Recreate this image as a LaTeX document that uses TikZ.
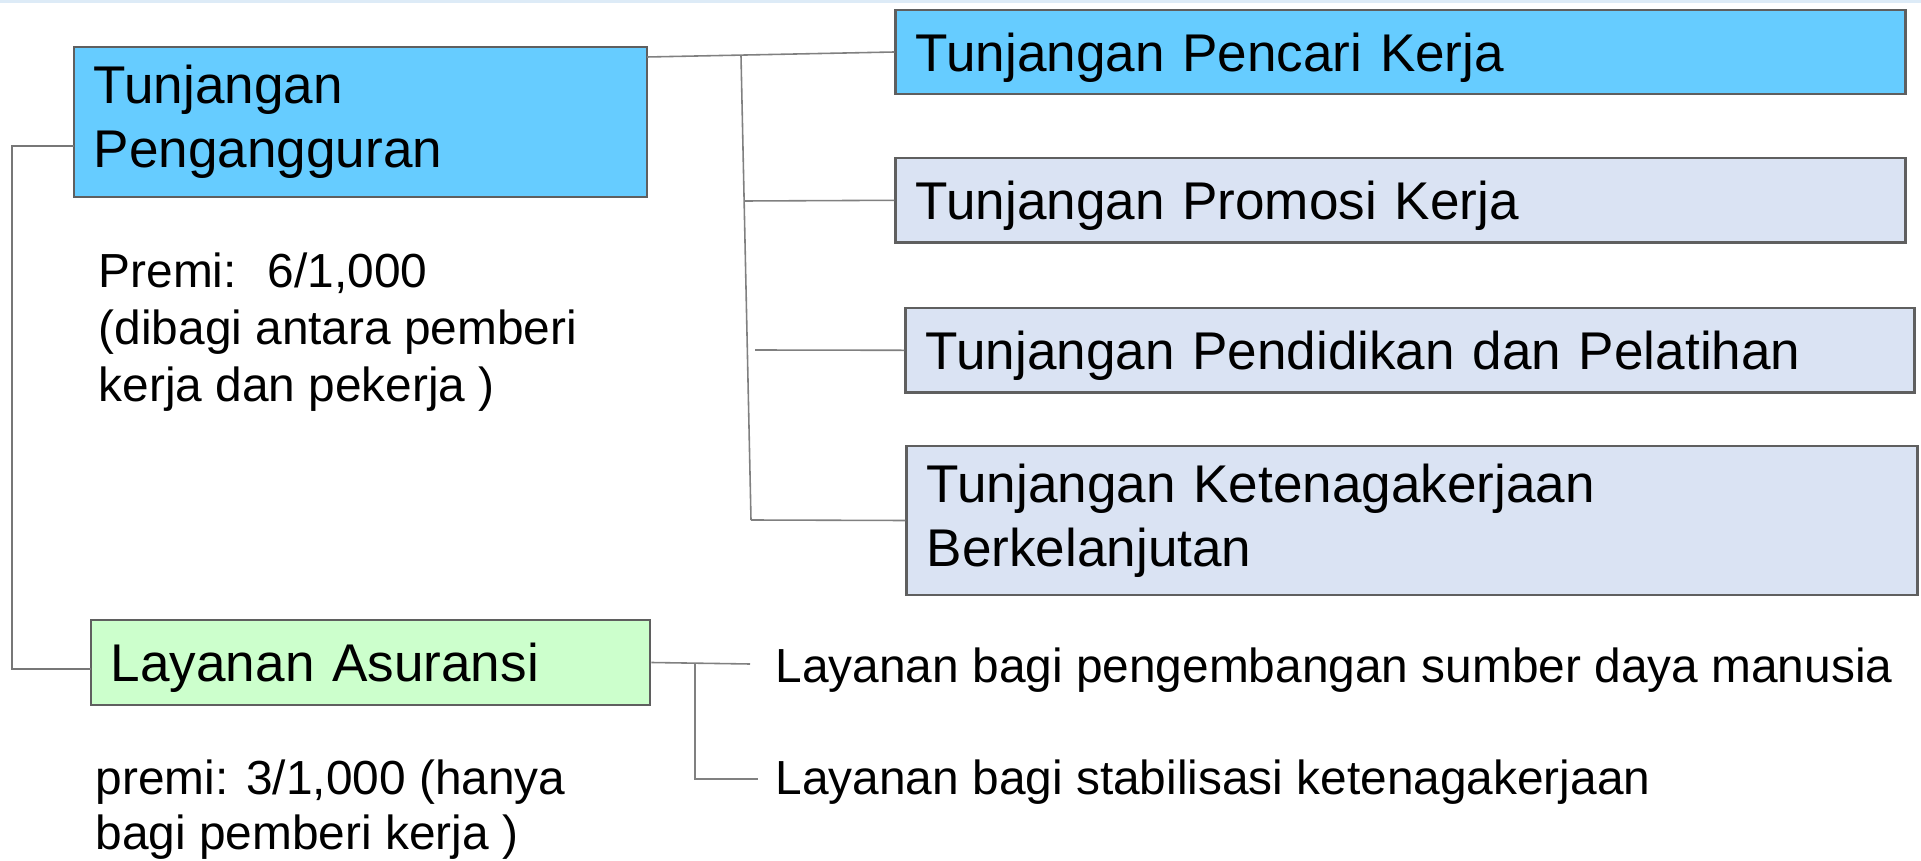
\documentclass[tikz,border=0pt]{standalone}
\usepackage{fontspec}
\setmainfont{Liberation Sans}
\definecolor{cyanfill}{HTML}{66CCFF}
\definecolor{lavfill}{HTML}{DAE3F3}
\definecolor{greenfill}{HTML}{CCFFCC}
\definecolor{boxline}{HTML}{5F5F5F}
\definecolor{linkgray}{HTML}{808080}
\definecolor{stripblue}{HTML}{DDEBF7}
\newcommand{\bigfont}{\fontsize{15.1}{18.2}\selectfont}
\newcommand{\notefont}{\fontsize{13.6}{16.2}\selectfont}
\begin{document}
\begin{tikzpicture}[x=0.01cm, y=-0.01cm,
    box/.style={draw=boxline, line width=0.7pt, inner xsep=0.2cm, inner ysep=0pt,
                align=left, font=\bigfont},
    onebox/.style={box, text depth=0pt},
    link/.style={draw=linkgray, line width=0.45pt},
    note/.style={inner sep=0pt, align=left, font=\notefont}]
    \useasboundingbox (0,0) rectangle (1921,861);

    % Bande du haut
    \fill[stripblue] (0,0) rectangle (1921,3);

    % Boîtes de gauche
    \node[box, fill=cyanfill, text width=5.33cm, minimum height=1.495cm] (tp) at (360.5,122)
        {Tunjangan\\Pengangguran};
    \node[onebox, fill=greenfill, text width=5.19cm, minimum height=0.85cm] (la) at (370.5,662.5)
        {Layanan Asuransi};

    % Boîtes de droite
    \node[onebox, fill=cyanfill, text width=9.69cm, minimum height=0.84cm] (tpk) at (1400.5,52)
        {Tunjangan Pencari Kerja};
    \node[onebox, fill=lavfill, text width=9.69cm, minimum height=0.847cm] (tpr) at (1400.5,200.3)
        {Tunjangan Promosi Kerja};
    \node[onebox, fill=lavfill, text width=9.68cm, minimum height=0.847cm] (tpd) at (1410,350.3)
        {Tunjangan Pendidikan dan Pelatihan};
    \node[box, fill=lavfill, text width=9.70cm, minimum height=1.49cm] (tkb) at (1412,520.5)
        {Tunjangan Ketenagakerjaan\\Berkelanjutan};

    % Premi
    \node[note, anchor=north west] (premi1) at (98,252)
        {Premi:~ 6/1,000\\(dibagi antara pemberi\\kerja dan pekerja )};
    \node[note, anchor=north west, font=\fontsize{13.6}{15.6}\selectfont] (premi2) at (95,759)
        {premi: 3/1,000 (hanya\\bagi pemberi kerja )};

    % Layanan
    \node[note, anchor=base west] (svc1) at (775,682) {Layanan bagi pengembangan sumber daya manusia};
    \node[note, anchor=base west] (svc2) at (775,794) {Layanan bagi stabilisasi ketenagakerjaan};

    % Garis ke kanan
    \coordinate (tpout) at (647,57);
    \coordinate (spinetop) at (741,56);
    \coordinate (spinebot) at (751,520);
    \coordinate (br2) at (745,201);
    \coordinate (br3) at (755,350);
    \draw[link] (tpout) -- (tpk.west);
    \draw[link] (spinetop) -- (spinebot);
    \draw[link] (br2) -- (tpr.west);
    \draw[link] (br3) -- (tpd.west);
    \draw[link] (spinebot) -- (tkb.west);

    % Garis kiri
    \coordinate (tpin) at (74,146);
    \coordinate (rail) at (12,400);
    \coordinate (lain) at (91,669);
    \draw[link, draw=boxline!85, line width=0.6pt] (tpin) -| (rail) |- (lain);

    % Garis layanan
    \coordinate (svcend1) at (750,664);
    \coordinate (svcjoin) at (695,663.5);
    \coordinate (svcend2) at (758,779);
    \draw[link] (la.east) -- (svcend1);
    \draw[link] (svcjoin) |- (svcend2);
\end{tikzpicture}
\end{document}
